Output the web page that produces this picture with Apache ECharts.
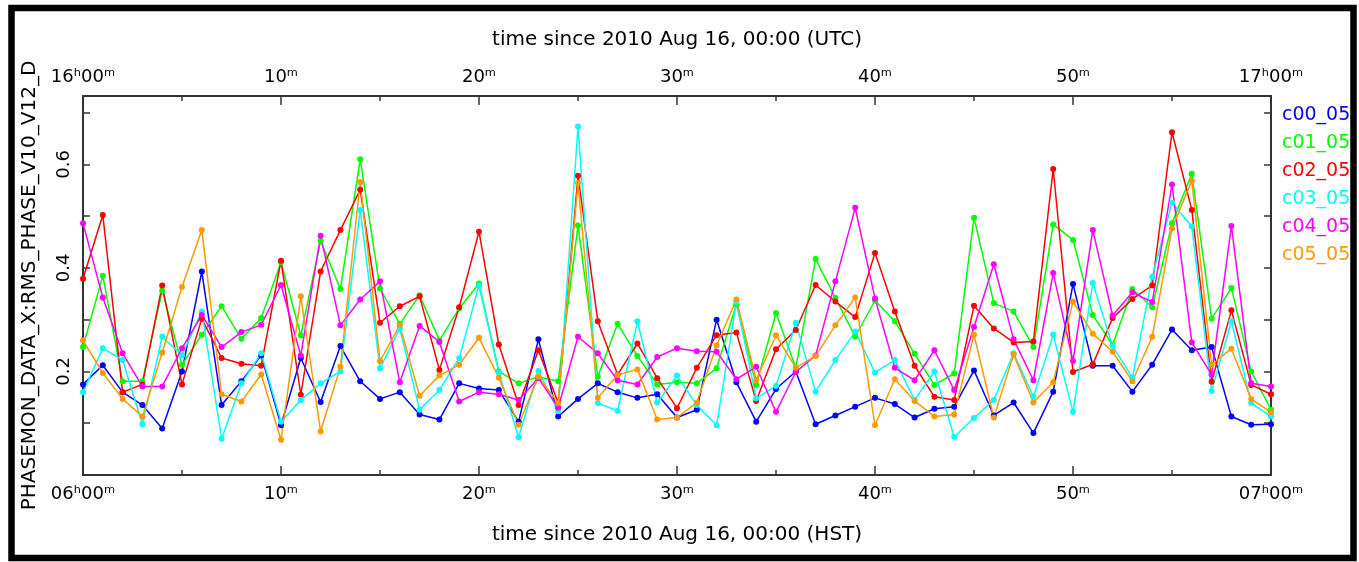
<!DOCTYPE html>
<html>
<head>
<meta charset="utf-8">
<title>PHASEMON RMS phase</title>
<script src="https://cdn.jsdelivr.net/npm/echarts@6/dist/echarts.min.js"></script>
<style>
html,
body {
  margin: 0;
  padding: 0;
  background: #fff;
}
#chart {
  width: 1359px;
  height: 562px;
}
</style>
</head>
<body>
<div id="chart"></div>
<script>
// minutes after the hour
var minutes = [0, 1, 2, 3, 4, 5, 6, 7, 8, 9, 10,
  11, 12, 13, 14, 15, 16, 17, 18, 19, 20,
  21, 22, 23, 24, 25, 26, 27, 28, 29, 30,
  31, 32, 33, 34, 35, 36, 37, 38, 39, 40,
  41, 42, 43, 44, 45, 46, 47, 48, 49, 50,
  51, 52, 53, 54, 55, 56, 57, 58, 59, 60];

var seriesNames = ["c00_05", "c01_05", "c02_05", "c03_05", "c04_05", "c05_05"];
var seriesColors = ["#0000ff", "#00ff00", "#ff0000", "#00ffff", "#ff00ff", "#ff9900"];

var c00 = [0.175, 0.212, 0.160, 0.135, 0.090, 0.200, 0.393, 0.135, 0.181, 0.231, 0.096,
  0.226, 0.141, 0.249, 0.181, 0.147, 0.160, 0.117, 0.107, 0.177, 0.167,
  0.164, 0.103, 0.262, 0.113, 0.147, 0.177, 0.160, 0.149, 0.156, 0.111,
  0.126, 0.300, 0.179, 0.103, 0.166, 0.200, 0.098, 0.115, 0.132, 0.149,
  0.137, 0.111, 0.128, 0.132, 0.202, 0.115, 0.140, 0.081, 0.161, 0.369,
  0.211, 0.211, 0.161, 0.213, 0.281, 0.241, 0.247, 0.113, 0.097, 0.098];
var c01 = [0.247, 0.385, 0.181, 0.181, 0.356, 0.213, 0.271, 0.326, 0.263, 0.303, 0.411,
  0.270, 0.452, 0.359, 0.610, 0.360, 0.292, 0.347, 0.260, 0.322, 0.370,
  0.200, 0.177, 0.190, 0.181, 0.482, 0.190, 0.292, 0.230, 0.175, 0.179,
  0.177, 0.206, 0.330, 0.174, 0.313, 0.207, 0.417, 0.342, 0.267, 0.337,
  0.297, 0.234, 0.174, 0.196, 0.497, 0.332, 0.316, 0.247, 0.484, 0.454,
  0.309, 0.251, 0.359, 0.324, 0.486, 0.582, 0.302, 0.361, 0.200, 0.126];
var c02 = [0.379, 0.502, 0.160, 0.175, 0.366, 0.175, 0.302, 0.226, 0.215, 0.211, 0.414,
  0.155, 0.393, 0.473, 0.551, 0.294, 0.326, 0.345, 0.203, 0.324, 0.470,
  0.252, 0.135, 0.241, 0.139, 0.578, 0.297, 0.194, 0.254, 0.187, 0.129,
  0.207, 0.270, 0.275, 0.143, 0.243, 0.280, 0.367, 0.335, 0.305, 0.429,
  0.316, 0.211, 0.151, 0.145, 0.327, 0.283, 0.256, 0.258, 0.591, 0.199,
  0.214, 0.303, 0.340, 0.366, 0.662, 0.512, 0.180, 0.318, 0.174, 0.156];
var c03 = [0.160, 0.245, 0.222, 0.098, 0.267, 0.231, 0.316, 0.070, 0.177, 0.235, 0.103,
  0.145, 0.177, 0.200, 0.512, 0.206, 0.283, 0.126, 0.164, 0.226, 0.366,
  0.198, 0.073, 0.201, 0.123, 0.673, 0.139, 0.124, 0.297, 0.140, 0.192,
  0.135, 0.096, 0.334, 0.148, 0.172, 0.294, 0.161, 0.222, 0.277, 0.198,
  0.222, 0.145, 0.200, 0.074, 0.110, 0.145, 0.235, 0.151, 0.271, 0.122,
  0.371, 0.249, 0.188, 0.383, 0.526, 0.480, 0.162, 0.297, 0.139, 0.113];
var c04 = [0.486, 0.343, 0.235, 0.171, 0.171, 0.245, 0.309, 0.247, 0.276, 0.290, 0.367,
  0.231, 0.462, 0.289, 0.339, 0.374, 0.179, 0.288, 0.257, 0.142, 0.160,
  0.156, 0.145, 0.187, 0.130, 0.267, 0.235, 0.183, 0.175, 0.228, 0.245,
  0.239, 0.238, 0.185, 0.209, 0.122, 0.199, 0.231, 0.374, 0.516, 0.341,
  0.207, 0.183, 0.241, 0.164, 0.286, 0.407, 0.262, 0.183, 0.390, 0.220,
  0.473, 0.308, 0.353, 0.334, 0.561, 0.256, 0.194, 0.481, 0.177, 0.171];
var c05 = [0.260, 0.197, 0.147, 0.113, 0.236, 0.363, 0.473, 0.156, 0.142, 0.194, 0.068,
  0.345, 0.084, 0.209, 0.566, 0.220, 0.289, 0.153, 0.192, 0.213, 0.265,
  0.188, 0.097, 0.190, 0.139, 0.564, 0.149, 0.193, 0.204, 0.107, 0.111,
  0.140, 0.250, 0.339, 0.183, 0.270, 0.207, 0.230, 0.289, 0.343, 0.096,
  0.185, 0.143, 0.113, 0.117, 0.271, 0.111, 0.233, 0.140, 0.179, 0.335,
  0.273, 0.238, 0.181, 0.267, 0.476, 0.569, 0.213, 0.244, 0.147, 0.121];

// tick labels (every 10 minutes)
var bottomLabels = ["06ʰ00ᵐ", "10ᵐ", "20ᵐ", "30ᵐ", "40ᵐ", "50ᵐ", "07ʰ00ᵐ"];
var topLabels = ["16ʰ00ᵐ", "10ᵐ", "20ᵐ", "30ᵐ", "40ᵐ", "50ᵐ", "17ʰ00ᵐ"];
var yLabels = { 2: "0.2", 4: "0.4", 6: "0.6" };

var values = [c00, c01, c02, c03, c04, c05];
var FONT = "DejaVu Sans";

var myChart = echarts.init(document.getElementById("chart"));

var _series = values.map(function (vals, i) {
  return {
    name: seriesNames[i],
    type: "line",
    xAxisIndex: 0,
    yAxisIndex: 0,
    symbol: "circle",
    symbolSize: 6,
    color: seriesColors[i],
    lineStyle: { width: 1.5, color: seriesColors[i] },
    itemStyle: { color: seriesColors[i] },
    data: vals.map(function (v, k) {
      return [minutes[k], v];
    }),
  };
});

var tickStyle = { color: "#333", width: 1.5 };

function xAxisOpt(pos, labels, name, gap) {
  return {
    type: "value",
    position: pos,
    min: 0,
    max: 60,
    interval: 10,
    name: name,
    nameLocation: "middle",
    nameGap: gap,
    nameTextStyle: { fontFamily: FONT, fontSize: 20, color: "#000" },
    axisLine: { show: true, onZero: false, lineStyle: { color: "#333", width: 2 } },
    axisTick: { show: true, inside: true, length: 9, lineStyle: tickStyle },
    minorTick: { show: true, splitNumber: 2, length: 5, lineStyle: tickStyle },
    splitLine: { show: false },
    axisLabel: {
      margin: 10,
      fontFamily: FONT,
      fontSize: 18,
      color: "#000",
      formatter: function (v) {
        return labels[Math.round(v / 10)];
      },
    },
  };
}

function yAxisOpt(pos, showLabel) {
  return {
    type: "value",
    position: pos,
    min: 0,
    max: 0.732,
    interval: 0.1,
    name: showLabel ? "PHASEMON_DATA_X:RMS_PHASE_V10_V12_D" : "",
    nameLocation: "middle",
    nameGap: 43,
    nameTextStyle: { fontFamily: FONT, fontSize: 20, color: "#000" },
    axisLine: { show: true, onZero: false, lineStyle: { color: "#333", width: 2 } },
    axisTick: { show: true, inside: true, length: 7, lineStyle: tickStyle },
    splitLine: { show: false },
    axisLabel: {
      show: showLabel,
      rotate: 90,
      margin: 10,
      fontFamily: FONT,
      fontSize: 18,
      color: "#000",
      showMaxLabel: false,
      formatter: function (v) {
        return yLabels[Math.round(v * 10)] || "";
      },
    },
  };
}

var option = {
  animation: false,
  backgroundColor: "#fff",
  textStyle: { fontFamily: FONT },
  grid: { left: 83, right: 88, top: 96, bottom: 87 },
  legend: {
    orient: "vertical",
    left: 1271,
    top: 100,
    itemWidth: 0,
    itemHeight: 0,
    itemGap: 8,
    selectedMode: false,
    textStyle: { fontFamily: FONT, fontSize: 19, lineHeight: 20 },
    data: seriesNames.map(function (n, i) {
      return { name: n, textStyle: { color: seriesColors[i] } };
    }),
  },
  xAxis: [
    xAxisOpt("bottom", bottomLabels, "time since 2010 Aug 16, 00:00 (HST)", 50),
    xAxisOpt("top", topLabels, "time since 2010 Aug 16, 00:00 (UTC)", 46),
  ],
  yAxis: [yAxisOpt("left", true), yAxisOpt("right", false)],
  graphic: [
    {
      // outer black frame
      type: "rect",
      silent: true,
      shape: { x: 11.5, y: 8, width: 1342, height: 550 },
      style: { fill: null, stroke: "#000", lineWidth: 6.5 },
    },
  ],
  series: _series,
};

myChart.setOption(option);
window.onresize = myChart.resize;
</script>
</body>
</html>
